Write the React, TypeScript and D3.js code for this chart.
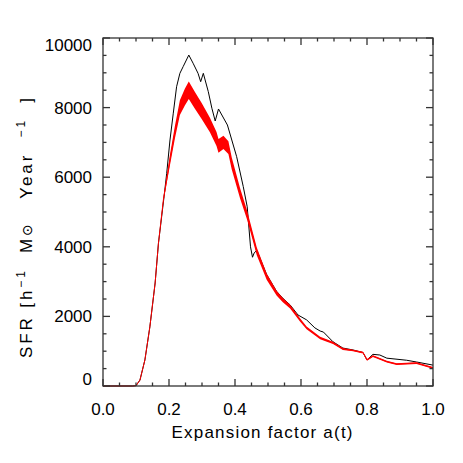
import React from "react";
import * as d3 from "d3";

// data
const xTicks = [0, 0.2, 0.4, 0.6, 0.8, 1.0];
const yTicks = [0, 2000, 4000, 6000, 8000, 10000];

const blackA = [0, 0.09, 0.1, 0.112, 0.127, 0.142, 0.158, 0.168, 0.185, 0.193, 0.203, 0.213, 0.223, 0.233, 0.243, 0.26, 0.273, 0.288, 0.296, 0.304, 0.319, 0.33, 0.34, 0.35, 0.377, 0.405, 0.425, 0.437, 0.447, 0.453, 0.458, 0.466, 0.496, 0.526, 0.545, 0.567, 0.591, 0.617, 0.642, 0.658, 0.668, 0.697, 0.727, 0.758, 0.788, 0.8, 0.818, 0.839, 0.86, 0.92, 0.95, 1.0];
const blackSFR = [0, 0, 10, 170, 750, 1700, 2960, 4100, 5440, 6110, 7070, 7840, 8600, 8985, 9180, 9510, 9275, 8985, 8745, 8985, 8460, 7980, 7615, 7960, 7500, 6590, 5730, 5150, 4000, 3700, 3820, 3900, 3200, 2720, 2520, 2330, 2040, 1900, 1670, 1580, 1550, 1270, 1090, 1035, 960, 750, 910, 890, 800, 740, 690, 600];

const redA = [0, 0.09, 0.1, 0.112, 0.127, 0.142, 0.158, 0.168, 0.183, 0.203, 0.218, 0.233, 0.248, 0.26, 0.279, 0.299, 0.324, 0.344, 0.35, 0.365, 0.38, 0.39, 0.415, 0.437, 0.466, 0.496, 0.526, 0.545, 0.567, 0.597, 0.617, 0.658, 0.697, 0.727, 0.758, 0.788, 0.8, 0.818, 0.86, 0.89, 0.95, 1.0];
const redSFR = [0, 0, 10, 170, 750, 1700, 2960, 4100, 5350, 6500, 7300, 8000, 8300, 8500, 8200, 7900, 7500, 7100, 6900, 7000, 6850, 6400, 5550, 4900, 3870, 3140, 2670, 2470, 2280, 1900, 1670, 1380, 1240, 1065, 1020, 960, 750, 860, 700, 630, 660, 520];
// half width of the noisy red band
const redSpread = [0, 0, 0, 0, 0, 0, 0, 0, 50, 150, 180, 210, 240, 250, 240, 230, 210, 200, 200, 190, 180, 170, 150, 130, 110, 90, 70, 60, 55, 50, 40, 35, 30, 30, 25, 25, 25, 25, 25, 25, 25, 25];

const W = 463;
const H = 463;
const margin = { top: 38, right: 30, bottom: 77, left: 103 };

export default function App() {
  const x = d3.scaleLinear().domain([0, 1]).range([margin.left, W - margin.right]);
  const y = d3.scaleLinear().domain([0, 10000]).range([H - margin.bottom, margin.top]);
  const x0 = x.range()[0], x1 = x.range()[1];
  const y0 = y.range()[0], y1 = y.range()[1];

  const black = blackA.map((a, i) => [a, blackSFR[i]] as [number, number]);
  const red = redA.map((a, i) => ({ a, v: redSFR[i], s: redSpread[i] }));

  const line = d3.line<[number, number]>().x((d) => x(d[0])).y((d) => y(d[1]));
  const band = d3
    .area<{ a: number; v: number; s: number }>()
    .x((d) => x(d.a))
    .y0((d) => y(d.v - d.s))
    .y1((d) => y(d.v + d.s));
  const redLine = d3
    .line<{ a: number; v: number; s: number }>()
    .x((d) => x(d.a))
    .y((d) => y(d.v));

  const xMinor = d3.range(0, 1.0001, 0.05);
  const yMinor = d3.range(0, 10001, 500);
  const majLen = 7;
  const minLen = 3.5;
  const isMajX = (t: number) => Math.abs(t * 5 - Math.round(t * 5)) < 1e-6;
  const isMajY = (t: number) => t % 2000 === 0;

  const font = "'Liberation Sans', Arial, sans-serif";
  const axisColor = "#333";

  return (
    <svg width={W} height={H} style={{ position: "absolute", left: 0, top: 0, background: "#fff" }}>
      {/* curves */}
      <path d={line(black) || ""} fill="none" stroke="#000" strokeWidth={1} />
      <path d={band(red) || ""} fill="#ff0000" stroke="none" />
      <path d={redLine(red) || ""} fill="none" stroke="#ff0000" strokeWidth={1} />

      {/* box */}
      <rect x={x0} y={y1} width={x1 - x0} height={y0 - y1} fill="none" stroke={axisColor} strokeWidth={1.3} />

      {/* x ticks bottom & top */}
      {xMinor.map((t, i) => {
        const len = isMajX(t) ? majLen : minLen;
        return (
          <g key={"xt" + i} stroke={axisColor} strokeWidth={1.3}>
            <line x1={x(t)} x2={x(t)} y1={y0} y2={y0 - len} />
            <line x1={x(t)} x2={x(t)} y1={y1} y2={y1 + len} />
          </g>
        );
      })}
      {/* y ticks left & right */}
      {yMinor.map((t, i) => {
        const len = isMajY(t) ? majLen : minLen;
        return (
          <g key={"yt" + i} stroke={axisColor} strokeWidth={1.3}>
            <line x1={x0} x2={x0 + len} y1={y(t)} y2={y(t)} />
            <line x1={x1} x2={x1 - len} y1={y(t)} y2={y(t)} />
          </g>
        );
      })}

      {/* tick labels */}
      {xTicks.map((t) => (
        <text key={"xl" + t} x={x(t)} y={y0 + 29} textAnchor="middle" fontFamily={font} fontSize={17} fill="#000">
          {t.toFixed(1)}
        </text>
      ))}
      {yTicks.map((t) => (
        <text
          key={"yl" + t}
          x={x0 - 11}
          y={Math.min(Math.max(y(t), y1 + 7), y0 - 7)}
          dy="0.35em"
          textAnchor="end"
          fontFamily={font}
          fontSize={17}
          fill="#000"
        >
          {t}
        </text>
      ))}

      {/* axis titles */}
      <text x={262} y={438} textAnchor="middle" fontFamily={font} fontSize={17} fill="#000" textLength={181} lengthAdjust="spacing">
        Expansion factor a(t)
      </text>
      <g transform="translate(32,228) rotate(-90)">
        <text
          textAnchor="middle"
          fontFamily={font}
          fontSize={17}
          fill="#000"
          textLength={260}
          lengthAdjust="spacing"
          style={{ whiteSpace: "pre" }}
        >
          SFR [h
          <tspan dy={-7} fontSize={12}>−1</tspan>
          <tspan dy={7}>  M</tspan>
          <tspan fontFamily="'DejaVu Sans', sans-serif" fontSize={14}>⊙</tspan>
          <tspan>   Year  </tspan>
          <tspan dy={-7} fontSize={12}>−1</tspan>
          <tspan dy={7}>  ]</tspan>
        </text>
      </g>
    </svg>
  );
}
